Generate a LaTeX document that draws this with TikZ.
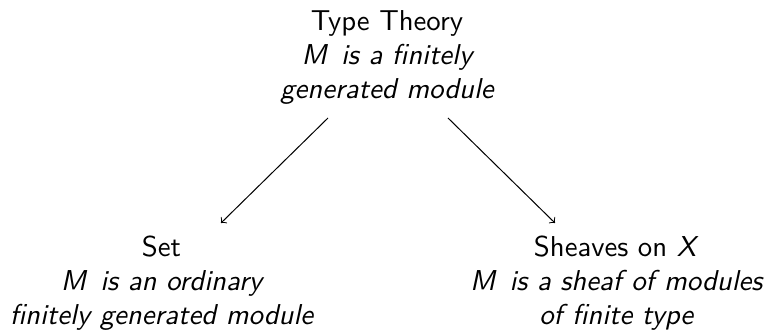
\documentclass[tikz,border=0pt]{standalone}
\usetikzlibrary{calc}
\newcommand{\lbltext}[1]{\scalebox{1.15}{\begin{tabular}{@{}c@{}}#1\end{tabular}}}
\begin{document}
\begin{tikzpicture}[x=1pt,y=1pt,
  lbl/.style={inner sep=0pt,font=\sffamily\fontsize{10}{11.83}\selectfont},
  arr/.style={->,line width=0.4pt}]
\useasboundingbox (0,0) rectangle (306.4,-133.2);
\node[lbl] (top) at (154.8,-22.9) {\lbltext{Type Theory\\\itshape M\,\ is a finitely\\\itshape generated module}};
\node[lbl] (left) at (64.6,-113.3) {\lbltext{Set\\\itshape M\,\ is an ordinary\\\itshape finitely generated module}};
\node[lbl] (right) at (246.5,-113.3) {\lbltext{Sheaves on \textit{X}\\\itshape M\,\ is a sheaf of modules\\\itshape of finite type}};
\draw[arr] ($(top)+(-23.6,-24.3)$) -- ($(left)+(23.8,24.1)$);
\draw[arr] ($(top)+(24.4,-24.3)$) -- ($(right)+(-24.5,24.1)$);
\end{tikzpicture}
\end{document}
